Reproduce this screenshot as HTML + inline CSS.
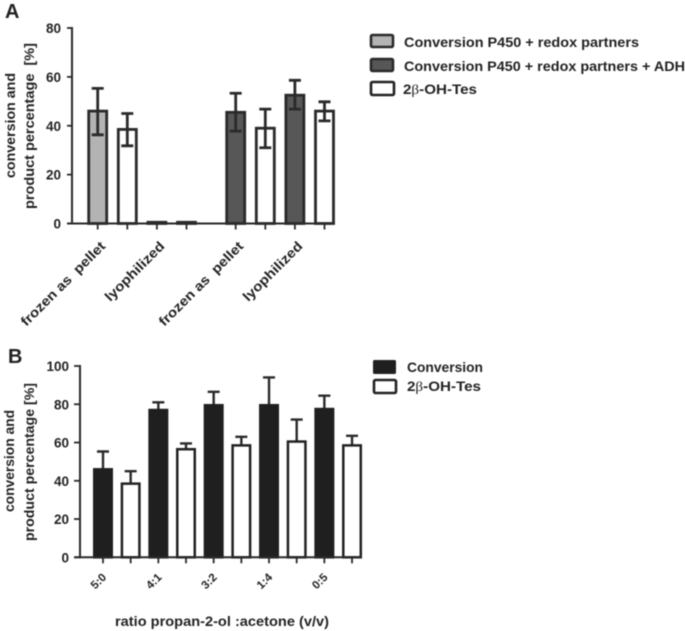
<!DOCTYPE html>
<html>
<head>
<meta charset="utf-8">
<style>
html,body{margin:0;padding:0;background:#fff;width:685px;height:631px;overflow:hidden}
svg{display:block;filter:blur(0.5px)}
text{font-family:"Liberation Sans",sans-serif;fill:#222;font-weight:bold}
.beta{font-family:"Liberation Serif",serif;font-weight:normal}
</style>
</head>
<body>
<svg id="fig" width="685" height="631" viewBox="0 0 685 631" xmlns="http://www.w3.org/2000/svg">
<text x="5" y="18" font-size="20" fill="#111">A</text>
<text x="8" y="363" font-size="20" fill="#111">B</text>

<g id="chartA"></g>
<g id="chartB"></g>

<text transform="translate(15,178) rotate(-90)" font-size="14" textLength="105" lengthAdjust="spacingAndGlyphs">conversion and</text>
<text transform="translate(34,209) rotate(-90)" font-size="14" textLength="166" lengthAdjust="spacingAndGlyphs" xml:space="preserve">product percentage  [%]</text>
<text transform="translate(14,512) rotate(-90)" font-size="14" textLength="102" lengthAdjust="spacingAndGlyphs">conversion and</text>
<text transform="translate(34,541) rotate(-90)" font-size="14" textLength="158" lengthAdjust="spacingAndGlyphs">product percentage [%]</text>
<text x="115" y="626" font-size="14" textLength="214" lengthAdjust="spacingAndGlyphs">ratio propan-2-ol :acetone (v/v)</text>

<g>
<rect x="371" y="35" width="22" height="12" rx="1.5" fill="#b3b3b3" stroke="#2a2a2a" stroke-width="2.6"/>
<text x="404" y="47" font-size="13.5" textLength="235" lengthAdjust="spacingAndGlyphs">Conversion P450 + redox partners</text>
<rect x="371" y="59" width="22" height="12" rx="1.5" fill="#575757" stroke="#2a2a2a" stroke-width="2.6"/>
<text x="404" y="71" font-size="13.5" textLength="281" lengthAdjust="spacingAndGlyphs">Conversion P450 + redox partners + ADH</text>
<rect x="371" y="82" width="23" height="13" rx="1.5" fill="#fff" stroke="#222" stroke-width="2.6"/>
<text x="403" y="94" font-size="13.5" textLength="74" lengthAdjust="spacingAndGlyphs">2<tspan class="beta">β</tspan>-OH-Tes</text>
</g>
<g>
<rect x="373" y="360" width="23" height="14" rx="1.5" fill="#1f1f1f"/>
<text x="407" y="372" font-size="13.5" textLength="76" lengthAdjust="spacingAndGlyphs">Conversion</text>
<rect x="374" y="380" width="22" height="13" rx="1.5" fill="#fff" stroke="#222" stroke-width="2.6"/>
<text x="407" y="391" font-size="13.5" textLength="74" lengthAdjust="spacingAndGlyphs">2<tspan class="beta">β</tspan>-OH-Tes</text>
</g>
</svg>
<script>
// Panel A data
const aValues = [46, 38.5, 0.5, 0.5, 45.5, 39, 52.5, 46];
const aErrHigh = [55.3, 45, 0.5, 0.5, 53.3, 46.8, 58.6, 49.8];
const aErrLow = [36.3, 31.8, 0.5, 0.5, 37.8, 31, 46.8, 42];
const aFills = ['#b3b3b3', '#ffffff', '#b3b3b3', '#ffffff', '#575757', '#ffffff', '#575757', '#ffffff'];
const aTicks = [0, 20, 40, 60, 80];
const aCategories = ['frozen as  pellet', 'lyophilized', 'frozen as  pellet', 'lyophilized'];

// Panel B data
const bValues = [46, 38.5, 77, 56.5, 79.5, 58.5, 79.5, 60.5, 77.5, 58.5];
const bErrHigh = [55.3, 45, 81, 59.5, 86.5, 63, 94, 72, 84.5, 63.5];
const bFills = ['#1f1f1f', '#ffffff', '#1f1f1f', '#ffffff', '#1f1f1f', '#ffffff', '#1f1f1f', '#ffffff', '#1f1f1f', '#ffffff'];
const bTicks = [0, 20, 40, 60, 80, 100];
const bCategories = ['5:0', '4:1', '3:2', '1:4', '0:5'];

const NS = 'http://www.w3.org/2000/svg';
const INK = '#2a2a2a';

function make(parent, tag, attrs) {
  const el = document.createElementNS(NS, tag);
  for (const k in attrs) el.setAttribute(k, attrs[k]);
  parent.appendChild(el);
  return el;
}

// Axis functions
const yA = v => 223.5 - v * (223.5 - 28) / 80;
const xA = i => 97.7 + i * 29.6 + (i >= 4 ? 19.6 : 0);
const yB = v => 557.3 - v * (557.3 - 366) / 100;
const xB = i => 103 + i * 27.67;

const gA = document.getElementById('chartA');
const gB = document.getElementById('chartB');

// Panel A bars
aValues.forEach((v, i) => {
  const bar = make(gA, 'rect', {x: xA(i) - 9, y: yA(v), width: 18, height: yA(0) - yA(v), fill: aFills[i], stroke: INK, 'stroke-width': 2.8});
  
  
  if (aErrHigh[i] !== aErrLow[i]) {
    const err = make(gA, 'path', {
      d: 'M' + xA(i) + ' ' + yA(aErrHigh[i]) + 'V' + yA(aErrLow[i]) +
         'M' + (xA(i) - 6) + ' ' + yA(aErrHigh[i]) + 'h12' +
         'M' + (xA(i) - 6) + ' ' + yA(aErrLow[i]) + 'h12',
      fill: 'none', stroke: INK, 'stroke-width': 2.8});
    
    
  }
  const tick = make(gA, 'line', {x1: xA(i), x2: xA(i), y1: yA(0), y2: yA(0) + 6, stroke: INK, 'stroke-width': 1.8});
  
  
});

// Panel A axes
const axAY = make(gA, 'line', {x1: 72, x2: 72, y1: yA(80) - 1, y2: yA(0) + 1, stroke: INK, 'stroke-width': 2});


const axAX = make(gA, 'line', {x1: 67, x2: 335, y1: yA(0), y2: yA(0), stroke: INK, 'stroke-width': 2});


aTicks.forEach(t => {
  const tick = make(gA, 'line', {x1: 67, x2: 72, y1: yA(t), y2: yA(t), stroke: INK, 'stroke-width': 1.8});
  
  
  const label = make(gA, 'text', {x: 61, y: yA(t) + 5, 'text-anchor': 'end', 'font-size': 13.5});
  
  
  label.textContent = t;
});
aCategories.forEach((c, i) => {
  const idx = i * 2;
  const px = xA(idx) + 8.5;
  const span = c.indexOf('frozen') === 0 ? 113 : 78;
  const label = make(gA, 'text', {transform: 'translate(' + px + ',247) rotate(-45) translate(' + (-span) + ',0)', 'font-size': 13.5, textLength: span, lengthAdjust: 'spacingAndGlyphs', style: 'white-space:pre'});
  
  
  label.textContent = c;
});

// Panel B bars
bValues.forEach((v, i) => {
  const cx = xB(i);
  const err = make(gB, 'path', {
    d: 'M' + cx + ' ' + yB(v) + 'V' + yB(bErrHigh[i]) + 'M' + (cx - 6) + ' ' + yB(bErrHigh[i]) + 'h12',
    fill: 'none', stroke: INK, 'stroke-width': 2.4});
  
  
  const bar = make(gB, 'rect', {x: cx - 8.75, y: yB(v), width: 17.5, height: yB(0) - yB(v), fill: bFills[i], stroke: bFills[i] === '#ffffff' ? '#222' : '#1f1f1f', 'stroke-width': 2.5});
  
  
  const tick = make(gB, 'line', {x1: cx, x2: cx, y1: yB(0), y2: yB(0) + 6, stroke: INK, 'stroke-width': 1.8});
  
  
});

// Panel B axes
const axBY = make(gB, 'line', {x1: 80, x2: 80, y1: yB(100) - 1, y2: yB(0) + 1, stroke: INK, 'stroke-width': 2});


const axBX = make(gB, 'line', {x1: 74, x2: 362, y1: yB(0), y2: yB(0), stroke: INK, 'stroke-width': 2});


bTicks.forEach(t => {
  const tick = make(gB, 'line', {x1: 74, x2: 80, y1: yB(t), y2: yB(t), stroke: INK, 'stroke-width': 1.8});
  
  
  const label = make(gB, 'text', {x: 69, y: yB(t) + 5, 'text-anchor': 'end', 'font-size': 13.5});
  
  
  label.textContent = t;
});
bCategories.forEach((c, i) => {
  const px = xB(i * 2) + 4;
  const label = make(gB, 'text', {transform: 'translate(' + px + ',578) rotate(-45)', 'text-anchor': 'end', 'font-size': 11.5});
  
  
  label.textContent = c;
});
</script>
</body>
</html>
